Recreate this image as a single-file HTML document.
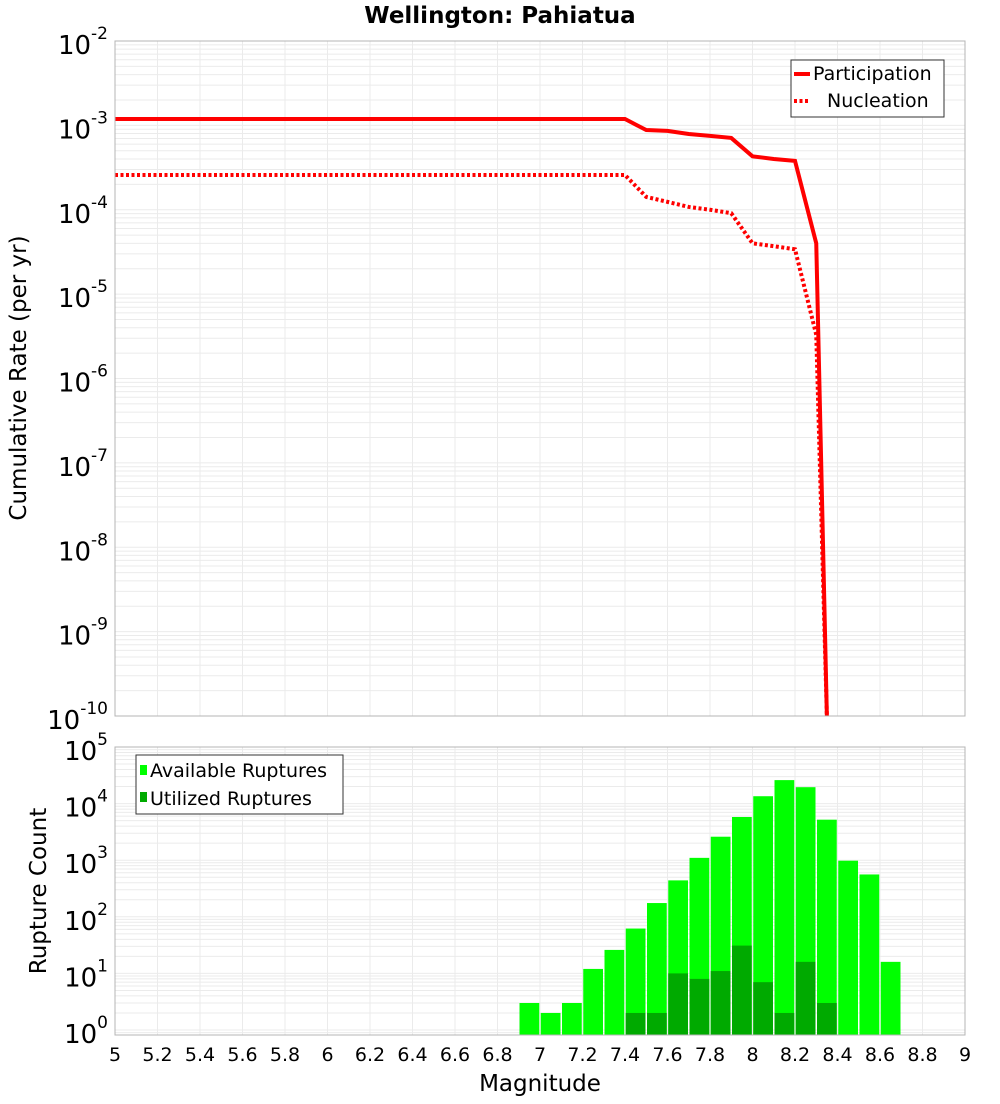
<!DOCTYPE html>
<html><head><meta charset="utf-8"><style>
body{margin:0;background:#fff;font-family:"DejaVu Sans","Liberation Sans",sans-serif}
svg text{font-family:"DejaVu Sans","Liberation Sans",sans-serif}
</style></head><body>
<svg id="c" width="1000" height="1100" xmlns="http://www.w3.org/2000/svg"></svg>
<script>
const rateMags=[5,5.1,5.2,5.3,5.4,5.5,5.6,5.7,5.8,5.9,6,6.1,6.2,6.3,6.4,6.5,6.6,6.7,6.8,6.9,7,7.1,7.2,7.3,7.4,7.5,7.6,7.7,7.8,7.9,8.0,8.1,8.2,8.3,8.35];
const participation=[1.19e-3,1.19e-3,1.19e-3,1.19e-3,1.19e-3,1.19e-3,1.19e-3,1.19e-3,1.19e-3,1.19e-3,1.19e-3,1.19e-3,1.19e-3,1.19e-3,1.19e-3,1.19e-3,1.19e-3,1.19e-3,1.19e-3,1.19e-3,1.19e-3,1.19e-3,1.19e-3,1.19e-3,1.19e-3,8.8e-4,8.6e-4,7.9e-4,7.5e-4,7.1e-4,4.3e-4,4.0e-4,3.8e-4,4.0e-5,1e-10];
const nucleation=[2.58e-4,2.58e-4,2.58e-4,2.58e-4,2.58e-4,2.58e-4,2.58e-4,2.58e-4,2.58e-4,2.58e-4,2.58e-4,2.58e-4,2.58e-4,2.58e-4,2.58e-4,2.58e-4,2.58e-4,2.58e-4,2.58e-4,2.58e-4,2.58e-4,2.58e-4,2.58e-4,2.58e-4,2.58e-4,1.42e-4,1.24e-4,1.08e-4,1.0e-4,9.1e-5,4.0e-5,3.7e-5,3.4e-5,3.3e-6,1e-10];
const binStarts=[6.9,7.0,7.1,7.2,7.3,7.4,7.5,7.6,7.7,7.8,7.9,8.0,8.1,8.2,8.3,8.4,8.5,8.6];
const available=[3,2,3,12,26,62,175,440,1100,2600,5800,13500,26000,19500,5200,980,560,16];
const utilized=[0,0,0,0,0,2,2,10,8,11,31,7,2,16,3,0,0,0];
const xTicks=[5,5.2,5.4,5.6,5.8,6,6.2,6.4,6.6,6.8,7,7.2,7.4,7.6,7.8,8,8.2,8.4,8.6,8.8,9];

const svg=document.getElementById('c');const NS='http://www.w3.org/2000/svg';
function mk(t,a,p){const e=document.createElementNS(NS,t);for(const k in a)e.setAttribute(k,a[k]);(p||svg).appendChild(e);return e;}
const X0=115,X1=965;
const x=m=>X0+(m-5)/4*(X1-X0);
const T0=41,T1=716;const yT=v=>T0+(-2-Math.log10(v))*(T1-T0)/8;
const B0=747,BD=56.6;const yB=v=>B0+(5-Math.log10(v))*BD;const B1=1035;

function grid(top,bot,yf,dmin,dmax){
  const g=mk('g',{});
  
  
  for(const t of xTicks){mk('line',{x1:x(t),x2:x(t),y1:top,y2:bot,stroke:'#ebebeb','stroke-width':1},g);}
  for(let d=dmin;d<dmax;d++)for(let k=1;k<10;k++){const yy=yf(k*Math.pow(10,d));if(yy<top-0.5||yy>bot)continue;
    mk('line',{x1:X0,x2:X1,y1:yy,y2:yy,stroke:'#ebebeb','stroke-width':1},g);}
}
let t=mk('text',{x:500,y:23,'text-anchor':'middle','font-size':23,'font-weight':'bold'});t.textContent='Wellington: Pahiatua';



grid(T0,T1,yT,-10,-2);
const clip=mk('clipPath',{id:'ct'});mk('rect',{x:X0,y:T0,width:X1-X0,height:T1-T0},clip);
const clipB=mk('clipPath',{id:'cb'});mk('rect',{x:X0,y:B0,width:X1-X0,height:B1-B0},clipB);
function line(vals,dash,name){
  const p=mk('polyline',{points:rateMags.map((m,i)=>x(m)+','+yT(vals[i])).join(' '),fill:'none',stroke:'#ff0000','stroke-width':4,'clip-path':'url(#ct)'});
  if(dash)p.setAttribute('stroke-dasharray','3,2.5');
  
  
}
line(participation,false,'participation-line');
line(nucleation,true,'nucleation-line');
let r=mk('rect',{x:X0,y:T0,width:X1-X0,height:T1-T0,fill:'none',stroke:'#b4b4b4'});

for(let d=-10;d<=-2;d++){
  const g=mk('text',{x:108,y:yT(Math.pow(10,d))+13,'text-anchor':'end','font-size':26});
  
  
  g.innerHTML='10<tspan dy="-15" font-size="17">'+d+'</tspan>';
}
t=mk('text',{x:0,y:0,'font-size':23,'text-anchor':'middle',transform:'translate(26,378) rotate(-90)'});t.textContent='Cumulative Rate (per yr)';

const lg=mk('g',{});
mk('rect',{x:791,y:60,width:153,height:57,fill:'#fff',stroke:'#333'},lg);
mk('line',{x1:794,x2:810,y1:74,y2:74,stroke:'#f00','stroke-width':4},lg);
mk('line',{x1:794,x2:810,y1:101,y2:101,stroke:'#f00','stroke-width':4,'stroke-dasharray':'3,2.5'},lg);
t=mk('text',{x:813,y:80,'font-size':19},lg);t.textContent='Participation';
t=mk('text',{x:827,y:107,'font-size':19},lg);t.textContent='Nucleation';

grid(B0,B1,yB,-1,5);
const bw=(x(5.1)-x(5))-1.5;
binStarts.forEach((m,i)=>{
  const b=mk('rect',{x:x(m)+0.75,y:yB(available[i]),width:bw,height:Math.max(0,B1-yB(available[i])),fill:'#00ff00','clip-path':'url(#cb)'});
  
  
  if(utilized[i]>0){
    const u=mk('rect',{x:x(m)+0.75,y:yB(utilized[i]),width:bw,height:Math.max(0,B1-yB(utilized[i])),fill:'#00aa00','clip-path':'url(#cb)'});
    
    
  }
});
r=mk('rect',{x:X0,y:B0,width:X1-X0,height:B1-B0,fill:'none',stroke:'#b4b4b4'});

for(let d=0;d<=5;d++){
  const g=mk('text',{x:108,y:yB(Math.pow(10,d))+13,'text-anchor':'end','font-size':26});
  
  
  g.innerHTML='10<tspan dy="-15" font-size="17">'+d+'</tspan>';
}
for(const v of xTicks){
  const g=mk('text',{x:x(v),y:1061,'text-anchor':'middle','font-size':19});
  
  
  g.textContent=String(v);
}
t=mk('text',{x:540,y:1091,'font-size':23,'text-anchor':'middle'});t.textContent='Magnitude';

t=mk('text',{x:0,y:0,'font-size':23,'text-anchor':'middle',transform:'translate(46,891) rotate(-90)'});t.textContent='Rupture Count';

const lg2=mk('g',{});
mk('rect',{x:136,y:755,width:207,height:59,fill:'#fff',stroke:'#333'},lg2);
mk('rect',{x:140,y:765,width:7,height:10,fill:'#00ff00'},lg2);
mk('rect',{x:140,y:792,width:7,height:10,fill:'#00aa00'},lg2);
t=mk('text',{x:150,y:777,'font-size':19},lg2);t.textContent='Available Ruptures';
t=mk('text',{x:150,y:805,'font-size':19},lg2);t.textContent='Utilized Ruptures';
</script>
</body></html>
